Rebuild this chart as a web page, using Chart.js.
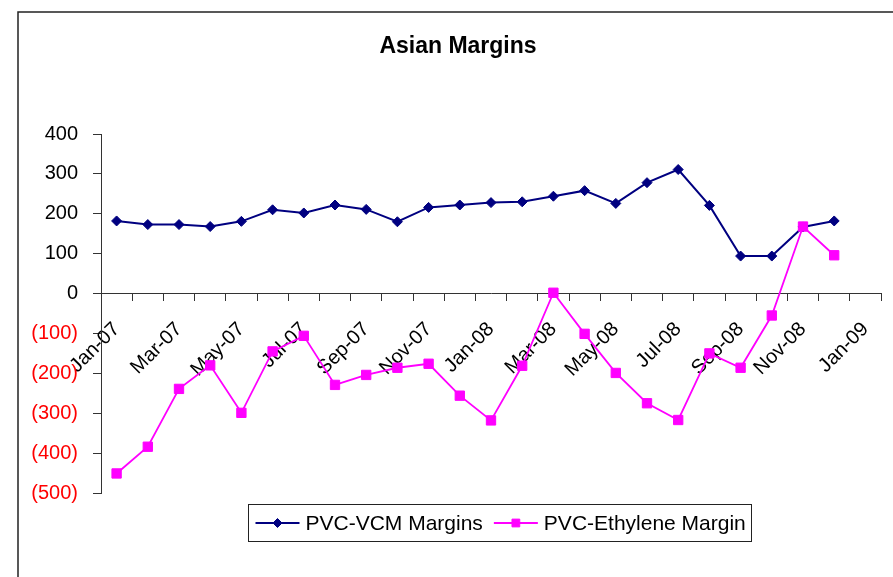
<!DOCTYPE html>
<html>
<head>
<meta charset="utf-8">
<script src="https://cdn.jsdelivr.net/npm/chart.js@4.4.1/dist/chart.umd.min.js"></script>
<style>
  html, body { margin: 0; padding: 0; background: #fff; }
  canvas { display: block; }
</style>
</head>
<body>
<canvas id="chart" width="893" height="577"></canvas>
<script>
// Monthly margins, Jan-07 .. Dec-08
const months = [
  'Jan-07','Feb-07','Mar-07','Apr-07','May-07','Jun-07','Jul-07','Aug-07','Sep-07','Oct-07','Nov-07','Dec-07',
  'Jan-08','Feb-08','Mar-08','Apr-08','May-08','Jun-08','Jul-08','Aug-08','Sep-08','Oct-08','Nov-08','Dec-08'
];
const vcmMargins = [182, 173, 173, 168, 181, 210, 202, 222, 211, 180, 216, 222,
                    228, 230, 244, 258, 226, 278, 311, 221, 94, 94, 167, 182];
const ethyleneMargins = [-451, -384, -239, -180, -299, -145, -106, -229, -204, -186, -176, -256,
                         -318, -181, 2, -101, -199, -275, -317, -150, -186, -55, 168, 96];
// Axis labels every second month
const tickLabels = ['Jan-07','Mar-07','May-07','Jul-07','Sep-07','Nov-07','Jan-08',
                    'Mar-08','May-08','Jul-08','Sep-08','Nov-08','Jan-09'];
const seriesNames = ['PVC-VCM Margins', 'PVC-Ethylene Margin'];

const FONT = '"Liberation Sans", Arial, Helvetica, sans-serif';
const NAVY = '#000080';
const MAGENTA = '#FF00FF';
const AXIS = '#333333';

// each month occupies one unit; points sit in the middle of their month
const toPoints = arr => arr.map((v, i) => ({ x: i + 0.5, y: v }));

const decorations = {
  id: 'decorations',
  beforeDraw(chart) {
    const ctx = chart.ctx;
    ctx.save();
    ctx.fillStyle = '#fff';
    ctx.fillRect(0, 0, chart.width, chart.height);
    ctx.restore();
  },
  afterDraw(chart) {
    const ctx = chart.ctx;
    ctx.save();
    // outer frame
    ctx.strokeStyle = '#222';
    ctx.lineWidth = 1.5;
    ctx.beginPath();
    ctx.moveTo(18, chart.height);
    ctx.lineTo(18, 12);
    ctx.lineTo(chart.width, 12);
    ctx.stroke();

    // title
    ctx.fillStyle = '#000';
    ctx.font = 'bold 23px ' + FONT;
    ctx.textAlign = 'center';
    ctx.textBaseline = 'middle';
    ctx.fillText('Asian Margins', 458, 47);

    // legend
    const box = { x: 248.5, y: 504.5, w: 503, h: 37 };
    ctx.strokeStyle = '#222';
    ctx.lineWidth = 1;
    ctx.strokeRect(box.x, box.y, box.w, box.h);
    ctx.font = '21px ' + FONT;
    ctx.textAlign = 'left';
    ctx.textBaseline = 'middle';
    const cy = box.y + box.h / 2;
    let x = box.x + 7;
    chart.data.datasets.forEach(ds => {
      ctx.strokeStyle = ds.borderColor;
      ctx.lineWidth = 2;
      ctx.beginPath();
      ctx.moveTo(x, cy);
      ctx.lineTo(x + 44, cy);
      ctx.stroke();
      ctx.fillStyle = ds.pointBackgroundColor;
      ctx.strokeStyle = ds.pointBorderColor;
      ctx.lineWidth = 1;
      Chart.helpers.drawPoint(ctx, {
        pointStyle: ds.pointStyle,
        radius: ds.pointStyle === 'rect' ? 5.5 : 4.5,
        rotation: 0,
        borderWidth: 1
      }, x + 22, cy);
      ctx.fillStyle = '#000';
      ctx.fillText(ds.label, x + 50, cy + 1);
      x += 50 + ctx.measureText(ds.label).width + 11;
    });
    ctx.restore();
  }
};

new Chart(document.getElementById('chart'), {
  type: 'line',
  data: {
    datasets: [
      {
        label: seriesNames[0],
        data: toPoints(vcmMargins),
        borderColor: NAVY,
        backgroundColor: NAVY,
        pointBackgroundColor: NAVY,
        pointBorderColor: NAVY,
        pointStyle: 'rectRot',
        pointRadius: 5,
        pointBorderWidth: 1,
        borderWidth: 2,
        tension: 0,
        order: 1
      },
      {
        label: seriesNames[1],
        data: toPoints(ethyleneMargins),
        borderColor: MAGENTA,
        backgroundColor: MAGENTA,
        pointBackgroundColor: MAGENTA,
        pointBorderColor: MAGENTA,
        pointStyle: 'rect',
        pointRadius: 6.6,
        pointBorderWidth: 1,
        borderWidth: 1.8,
        tension: 0,
        order: 0
      }
    ]
  },
  options: {
    responsive: false,
    animation: false,
    devicePixelRatio: 1,
    layout: { padding: { top: 134, left: 0, right: 12, bottom: 84 } },
    plugins: {
      legend: { display: false },
      title: { display: false },
      tooltip: { enabled: false }
    },
    scales: {
      x: {
        type: 'linear',
        min: 0,
        max: 25,
        position: { y: 0 },
        grid: { drawOnChartArea: false, tickLength: 7, color: AXIS },
        border: { color: AXIS, width: 1 },
        ticks: {
          stepSize: 1,
          autoSkip: false,
          minRotation: 45,
          maxRotation: 45,
          padding: 17,
          labelOffset: 15.6,
          color: '#000',
          font: { family: FONT, size: 20 },
          callback: v => (v % 2 === 0 && tickLabels[v / 2]) ? tickLabels[v / 2] : ''
        },
        // rotated labels should not push the plot edges inward
        afterFit: s => { s.paddingLeft = 0; s.paddingRight = 0; }
      },
      y: {
        min: -500,
        max: 400,
        grid: { drawOnChartArea: false, tickLength: 8, color: AXIS },
        border: { color: AXIS, width: 1 },
        ticks: {
          stepSize: 100,
          padding: 15,
          font: { family: FONT, size: 20 },
          color: c => (c.tick && c.tick.value < 0) ? '#FF0000' : '#000',
          callback: v => v < 0 ? '(' + (-v) + ')' : String(v)
        },
        afterFit: s => { s.width = 101; s.paddingTop = 0; s.paddingBottom = 0; }
      }
    }
  },
  plugins: [decorations]
});
</script>
</body>
</html>
